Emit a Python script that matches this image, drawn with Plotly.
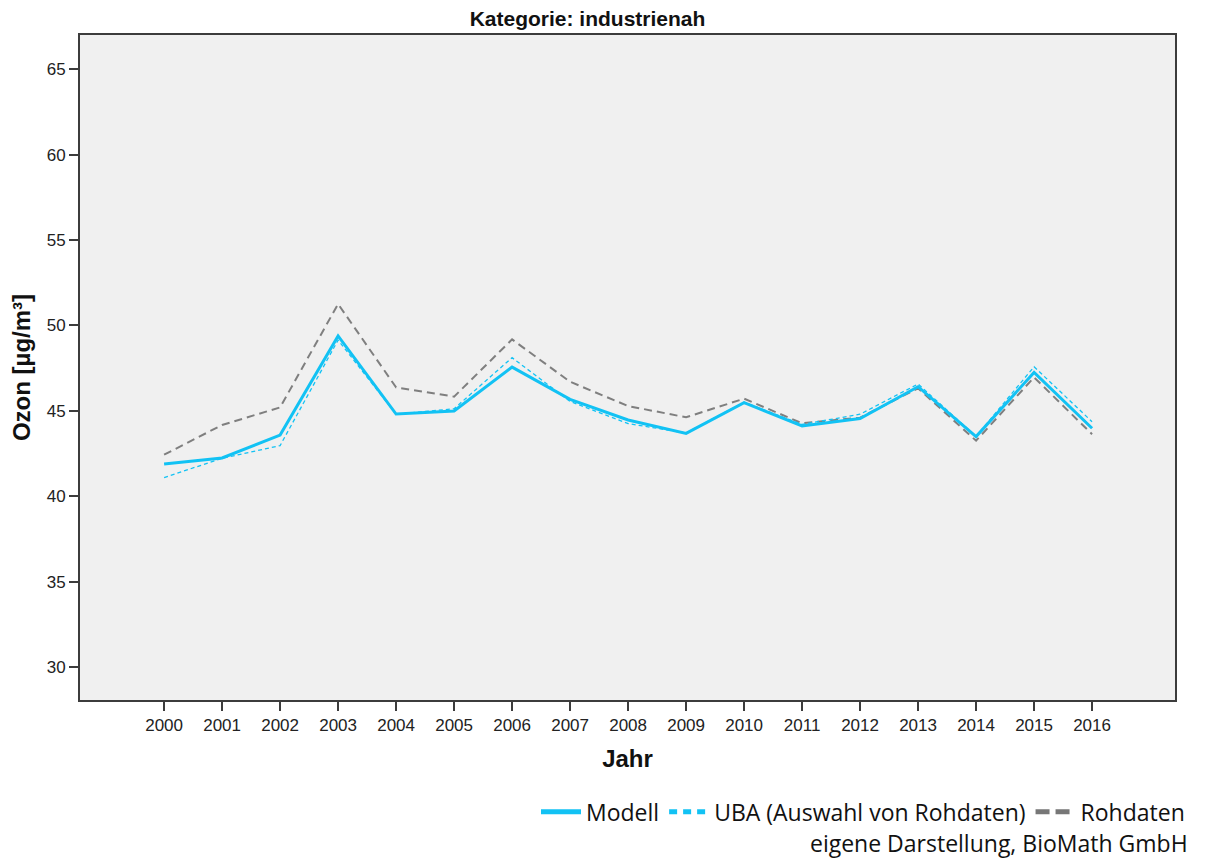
import plotly.graph_objects as go

years = list(range(2000, 2017))
modell = [41.89, 42.24, 43.58, 49.38, 44.81, 44.99, 47.56, 45.67, 44.46, 43.68, 45.48, 44.11, 44.55, 46.41, 43.49, 47.25, 43.98]
uba = [41.09, 42.22, 42.96, 49.14, 44.80, 45.12, 48.11, 45.55, 44.25, 43.70, 45.50, 44.20, 44.80, 46.57, 43.50, 47.58, 44.36]
rohdaten = [42.43, 44.17, 45.20, 51.25, 46.37, 45.83, 49.18, 46.70, 45.28, 44.62, 45.71, 44.27, 44.60, 46.32, 43.25, 46.96, 43.63]
y_ticks = [30, 35, 40, 45, 50, 55, 60, 65]

CYAN = "#12C2F4"
GREY = "#7f7f7f"
AXIS = "#3c3c3c"

fig = go.Figure()
fig.add_trace(go.Scatter(x=years, y=rohdaten, mode="lines", name="Rohdaten",
                         line=dict(color=GREY, width=2, dash="8px,5px"), showlegend=False))
fig.add_trace(go.Scatter(x=years, y=modell, mode="lines", name="Modell",
                         line=dict(color=CYAN, width=3), showlegend=False))
fig.add_trace(go.Scatter(x=years, y=uba, mode="lines", name="UBA (Auswahl von Rohdaten)",
                         line=dict(color=CYAN, width=1.3, dash="4px,3px"), showlegend=False))

# legend-only entries
fig.add_trace(go.Scatter(x=[None], y=[None], mode="lines", name="Modell",
                         line=dict(color=CYAN, width=5)))
fig.add_trace(go.Scatter(x=[None], y=[None], mode="lines", name="UBA (Auswahl von Rohdaten)",
                         line=dict(color=CYAN, width=5, dash="8px,6px")))
fig.add_trace(go.Scatter(x=[None], y=[None], mode="lines", name="Rohdaten",
                         line=dict(color="#777777", width=5, dash="14px,6px")))

fig.update_layout(
    width=1197, height=850,
    margin=dict(l=70, r=30, t=27, b=158),
    paper_bgcolor="white",
    plot_bgcolor="#F0F0F0",
    font=dict(family="Liberation Sans, Arial", color="#222222", size=17),
    title=dict(text="<b>Kategorie: industrienah</b>", x=(468 + 707) / 2 / 1197 - 8 / 1197, xref="container",
               xanchor="center", y=1 - 11 / 850, yanchor="middle",
               font=dict(size=21, color="#111111")),
    showlegend=True,
    legend=dict(orientation="h", x=1.0137, xanchor="right", y=-0.168, yanchor="middle",
                font=dict(family="Open Sans, Noto Sans", size=23, color="#111111"),
                bgcolor="rgba(0,0,0,0)", itemwidth=40, traceorder="normal"),
)

fig.update_xaxes(range=[1998.55, 2017.43], tickmode="array", tickvals=years,
                 ticktext=[str(y) for y in years], ticks="outside", ticklen=9, tickwidth=2,
                 tickcolor=AXIS, showgrid=False, zeroline=False,
                 showline=True, linecolor=AXIS, linewidth=2, mirror=True,
                 tickfont=dict(size=17),
                 title=dict(text="<b>Jahr</b>", font=dict(size=24, color="#111111"), standoff=16))
fig.update_yaxes(range=[28.07, 67.0], tickmode="array", tickvals=y_ticks,
                 ticks="outside", ticklen=9, tickwidth=2, tickcolor=AXIS,
                 showgrid=False, zeroline=False,
                 showline=True, linecolor=AXIS, linewidth=2, mirror=True,
                 tickfont=dict(size=17),
                 title=dict(text="<b>Ozon [µg/m³]</b>", font=dict(size=24, color="#111111"), standoff=10))

fig.add_annotation(text="eigene Darstellung, BioMath GmbH", xref="paper", yref="paper",
                   x=1.0137, y=-0.215, xanchor="right", yanchor="middle", showarrow=False,
                   font=dict(family="Open Sans, Noto Sans", size=23, color="#111111"))

fig.write_html("out.html")
